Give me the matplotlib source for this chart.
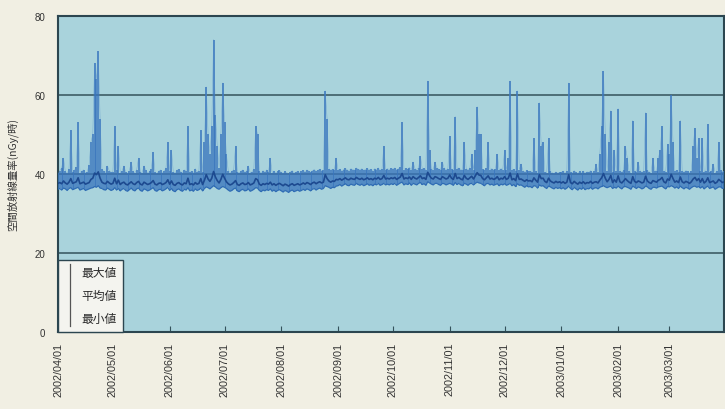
import numpy as np
import matplotlib
matplotlib.use("Agg")
import matplotlib.pyplot as plt
from matplotlib.lines import Line2D
import datetime as dt

plt.rcParams['font.family'] = ['Noto Sans CJK JP', 'DejaVu Sans']

# Daily values (nGy/h), 2002/04/01 - 2003/03/31
max_apr = [40.2, 40.8, 41.5, 44.0, 40.6, 40.1, 41.2, 51.0, 40.4, 40.9, 41.8, 53.0, 40.3, 40.7, 41.0, 40.2, 40.5, 42.3, 48.0, 50.0, 68.0, 64.0, 71.0, 54.0, 41.2, 40.6, 40.3, 42.0, 40.8, 40.4]
max_may = [40.5, 52.0, 40.9, 47.0, 40.3, 40.7, 42.0, 40.4, 40.1, 40.8, 43.0, 40.6, 40.2, 41.1, 44.0, 40.5, 40.3, 42.0, 40.9, 40.2, 40.6, 41.3, 45.5, 40.4, 40.1, 40.7, 41.0, 40.3, 40.6, 41.5, 48.0]
max_jun = [40.6, 46.0, 40.4, 40.2, 40.9, 41.2, 40.5, 40.3, 41.0, 40.7, 52.0, 40.4, 40.6, 40.2, 41.3, 40.5, 40.8, 51.0, 40.4, 48.0, 62.0, 50.0, 45.0, 52.0, 74.0, 55.0, 47.0, 41.5, 50.0, 63.0]
max_jul = [53.0, 45.0, 40.8, 40.3, 40.6, 41.1, 47.0, 40.5, 40.2, 40.7, 41.0, 40.4, 40.6, 42.0, 40.3, 40.5, 41.2, 52.0, 50.0, 40.6, 40.2, 40.8, 40.4, 41.0, 40.5, 44.0, 40.3, 40.7, 40.2, 40.6, 40.9]
max_aug = [40.4, 40.1, 40.6, 40.3, 40.0, 40.5, 40.8, 40.2, 40.4, 40.7, 40.3, 40.6, 40.9, 40.5, 41.0, 40.7, 40.4, 40.8, 41.1, 40.6, 40.9, 41.2, 40.8, 41.0, 61.0, 54.0, 41.3, 40.9, 41.2, 41.0, 44.0]
max_sep = [40.9, 41.2, 40.7, 41.1, 41.4, 41.0, 40.8, 41.3, 41.1, 40.9, 41.5, 41.2, 41.0, 41.3, 40.9, 41.1, 41.4, 41.0, 41.2, 40.8, 41.3, 41.1, 41.5, 40.9, 41.2, 47.0, 41.0, 41.3, 41.1, 41.4]
max_oct = [41.2, 41.5, 41.0, 41.3, 41.7, 53.0, 41.1, 41.4, 41.2, 41.6, 41.0, 43.0, 41.3, 41.1, 41.5, 44.5, 41.2, 41.4, 41.0, 63.5, 46.0, 41.3, 41.1, 43.0, 41.5, 41.2, 41.0, 43.0, 41.4, 41.1, 41.3]
max_nov = [49.5, 41.3, 41.0, 54.5, 41.2, 41.5, 41.1, 40.9, 48.0, 41.3, 41.0, 41.4, 45.0, 41.1, 46.0, 57.0, 50.0, 50.0, 41.2, 40.9, 41.4, 48.0, 41.1, 41.3, 41.0, 41.2, 45.0, 40.9, 41.3, 41.1]
max_dec = [46.0, 41.0, 44.0, 63.5, 40.9, 41.2, 40.7, 61.0, 41.0, 42.5, 40.8, 40.5, 40.9, 40.6, 40.7, 40.4, 49.0, 40.8, 40.3, 58.0, 47.0, 48.0, 40.5, 40.2, 49.0, 40.6, 40.3, 40.1, 40.5, 40.2, 40.4]
max_jan = [40.4, 40.7, 40.3, 40.6, 63.0, 40.5, 40.2, 40.8, 40.4, 40.1, 40.6, 40.3, 40.7, 40.2, 40.5, 40.4, 40.8, 40.3, 40.6, 42.5, 40.4, 45.0, 52.0, 66.0, 50.0, 40.7, 48.0, 56.0, 40.5, 46.0, 40.6]
max_feb = [56.5, 40.7, 40.4, 40.9, 47.0, 44.0, 40.6, 40.3, 53.5, 40.8, 40.5, 43.0, 40.7, 40.4, 40.6, 55.5, 40.9, 40.5, 40.3, 44.0, 40.8, 40.6, 44.0, 46.0, 52.0, 40.7, 40.4, 47.5]
max_mar = [45.0, 60.0, 48.0, 40.6, 40.9, 40.5, 53.5, 40.7, 40.4, 40.8, 40.6, 40.3, 40.7, 47.0, 51.5, 44.0, 49.0, 40.6, 49.0, 40.4, 40.8, 52.5, 40.5, 40.7, 42.5, 40.3, 40.6, 48.0, 40.9, 40.5, 40.7]

mean_apr = [37.6, 37.8, 37.5, 38.2, 37.7, 37.4, 37.9, 38.8, 37.6, 37.8, 38.0, 39.0, 37.5, 37.7, 37.9, 37.4, 37.6, 37.8, 38.6, 38.9, 40.2, 39.8, 40.5, 38.9, 37.9, 37.6, 37.5, 38.1, 37.7, 37.4]
mean_may = [37.6, 38.9, 37.5, 38.4, 37.3, 37.7, 37.9, 37.4, 37.2, 37.6, 38.0, 37.5, 37.3, 37.8, 38.1, 37.4, 37.2, 37.9, 37.6, 37.3, 37.5, 37.8, 38.3, 37.4, 37.2, 37.6, 37.7, 37.3, 37.5, 37.8, 38.5]
mean_jun = [37.4, 38.2, 37.3, 37.1, 37.6, 37.8, 37.4, 37.2, 37.7, 37.5, 38.9, 37.3, 37.5, 37.2, 37.8, 37.4, 37.6, 38.8, 37.3, 38.4, 39.8, 38.7, 38.1, 38.9, 40.6, 39.2, 38.3, 37.7, 38.6, 39.9]
mean_jul = [38.9, 38.0, 37.5, 37.2, 37.4, 37.8, 38.3, 37.3, 37.1, 37.5, 37.7, 37.3, 37.4, 37.8, 37.2, 37.4, 37.7, 38.8, 38.5, 37.4, 37.1, 37.5, 37.3, 37.6, 37.4, 37.9, 37.2, 37.5, 37.1, 37.4, 37.6]
mean_aug = [37.3, 37.0, 37.4, 37.2, 36.9, 37.3, 37.5, 37.1, 37.3, 37.5, 37.2, 37.4, 37.7, 37.4, 37.8, 37.6, 37.3, 37.7, 37.9, 37.5, 37.8, 38.0, 37.7, 37.9, 39.8, 38.8, 38.2, 37.9, 38.2, 38.1, 38.6]
mean_sep = [38.5, 38.8, 38.4, 38.7, 39.0, 38.6, 38.5, 38.9, 38.7, 38.6, 39.1, 38.8, 38.6, 38.9, 38.5, 38.7, 39.0, 38.6, 38.8, 38.5, 38.9, 38.7, 39.1, 38.6, 38.8, 39.6, 38.7, 38.9, 38.7, 39.0]
mean_oct = [38.8, 39.1, 38.6, 38.9, 39.2, 40.1, 38.7, 39.0, 38.8, 39.2, 38.6, 39.3, 38.9, 38.7, 39.1, 39.5, 38.8, 39.0, 38.6, 40.4, 39.5, 38.9, 38.7, 39.3, 39.1, 38.8, 38.6, 39.3, 39.0, 38.7, 38.9]
mean_nov = [39.7, 38.9, 38.6, 40.1, 38.8, 39.1, 38.7, 38.5, 39.6, 38.9, 38.6, 39.0, 39.4, 38.7, 39.5, 40.3, 39.7, 39.6, 38.8, 38.5, 39.0, 39.5, 38.7, 38.9, 38.6, 38.8, 39.3, 38.5, 38.9, 38.7]
mean_dec = [39.3, 38.6, 38.9, 40.2, 38.5, 38.8, 38.3, 40.0, 38.6, 38.7, 38.4, 38.1, 38.5, 38.2, 38.3, 38.0, 39.0, 38.4, 37.9, 39.8, 38.8, 38.9, 38.1, 37.8, 38.9, 38.2, 37.9, 37.7, 38.1, 37.8, 38.0]
mean_jan = [37.7, 38.0, 37.6, 37.9, 39.8, 37.8, 37.5, 38.1, 37.7, 37.4, 37.9, 37.6, 38.0, 37.5, 37.8, 37.7, 38.1, 37.6, 37.9, 38.0, 37.7, 38.4, 39.0, 40.1, 38.9, 38.0, 38.6, 39.6, 37.8, 38.5, 37.9]
mean_feb = [39.5, 38.0, 37.7, 38.2, 38.8, 38.3, 37.9, 37.6, 39.3, 38.1, 37.8, 38.2, 38.0, 37.7, 37.9, 39.4, 38.2, 37.8, 37.6, 38.3, 38.1, 37.9, 38.4, 38.6, 39.1, 38.0, 37.7, 38.7]
mean_mar = [38.4, 39.9, 38.8, 37.9, 38.2, 37.8, 39.2, 38.0, 37.7, 38.1, 37.9, 37.6, 38.0, 38.7, 39.1, 38.3, 38.8, 37.9, 38.8, 37.7, 38.1, 39.0, 37.8, 38.0, 38.2, 37.6, 37.9, 38.6, 38.2, 37.8, 38.0]

min_apr = [36.1, 36.3, 35.9, 36.4, 36.2, 35.8, 36.3, 36.5, 36.0, 36.2, 36.4, 36.6, 35.9, 36.1, 36.3, 35.8, 36.0, 36.2, 36.4, 36.5, 36.8, 36.6, 37.0, 36.4, 36.3, 36.0, 35.9, 36.4, 36.1, 35.8]
min_may = [36.0, 36.5, 35.9, 36.3, 35.7, 36.1, 36.3, 35.8, 35.6, 36.0, 36.4, 35.9, 35.7, 36.2, 36.4, 35.8, 35.6, 36.2, 36.0, 35.7, 35.9, 36.2, 36.5, 35.8, 35.6, 36.0, 36.1, 35.7, 35.9, 36.2, 36.6]
min_jun = [35.8, 36.3, 35.7, 35.5, 36.0, 36.2, 35.8, 35.6, 36.1, 35.9, 36.5, 35.7, 35.9, 35.6, 36.2, 35.8, 36.0, 36.4, 35.7, 36.3, 36.7, 36.5, 36.2, 36.6, 37.0, 36.7, 36.3, 36.1, 36.5, 36.8]
min_jul = [36.6, 36.3, 35.9, 35.6, 35.8, 36.2, 36.4, 35.7, 35.5, 35.9, 36.1, 35.7, 35.8, 36.2, 35.6, 35.8, 36.1, 36.5, 36.4, 35.8, 35.5, 35.9, 35.7, 36.0, 35.8, 36.2, 35.6, 35.9, 35.5, 35.8, 36.0]
min_aug = [35.7, 35.4, 35.8, 35.6, 35.3, 35.7, 35.9, 35.5, 35.7, 35.9, 35.6, 35.8, 36.1, 35.8, 36.2, 36.0, 35.7, 36.1, 36.3, 35.9, 36.2, 36.4, 36.1, 36.3, 37.0, 36.8, 36.6, 36.3, 36.6, 36.5, 36.9]
min_sep = [37.0, 37.3, 36.9, 37.2, 37.5, 37.1, 37.0, 37.4, 37.2, 37.1, 37.6, 37.3, 37.1, 37.4, 37.0, 37.2, 37.5, 37.1, 37.3, 37.0, 37.4, 37.2, 37.6, 37.1, 37.3, 37.6, 37.2, 37.4, 37.2, 37.5]
min_oct = [37.3, 37.6, 37.1, 37.4, 37.7, 37.9, 37.2, 37.5, 37.3, 37.7, 37.1, 37.6, 37.4, 37.2, 37.6, 37.8, 37.3, 37.5, 37.1, 38.0, 37.7, 37.4, 37.2, 37.6, 37.6, 37.3, 37.1, 37.6, 37.5, 37.2, 37.4]
min_nov = [37.6, 37.4, 37.1, 37.8, 37.3, 37.6, 37.2, 37.0, 37.6, 37.4, 37.1, 37.5, 37.6, 37.2, 37.6, 37.9, 37.7, 37.6, 37.3, 37.0, 37.5, 37.6, 37.2, 37.4, 37.1, 37.3, 37.5, 37.0, 37.4, 37.2]
min_dec = [37.5, 37.1, 37.3, 37.6, 37.0, 37.3, 36.8, 37.5, 37.1, 37.2, 36.9, 36.6, 37.0, 36.7, 36.8, 36.5, 37.0, 36.9, 36.4, 37.2, 36.9, 37.0, 36.6, 36.3, 36.9, 36.7, 36.4, 36.2, 36.6, 36.3, 36.5]
min_jan = [36.2, 36.5, 36.1, 36.4, 36.9, 36.3, 36.0, 36.6, 36.2, 35.9, 36.4, 36.1, 36.5, 36.0, 36.3, 36.2, 36.6, 36.1, 36.4, 36.5, 36.2, 36.6, 36.8, 37.0, 36.7, 36.5, 36.7, 36.9, 36.3, 36.6, 36.4]
min_feb = [36.9, 36.5, 36.2, 36.7, 36.8, 36.6, 36.4, 36.1, 36.9, 36.6, 36.3, 36.7, 36.5, 36.2, 36.4, 36.9, 36.7, 36.3, 36.1, 36.6, 36.6, 36.4, 36.7, 36.8, 36.9, 36.5, 36.2, 36.8]
min_mar = [36.7, 37.0, 36.8, 36.4, 36.7, 36.3, 36.9, 36.5, 36.2, 36.6, 36.4, 36.1, 36.5, 36.8, 36.9, 36.6, 36.8, 36.4, 36.8, 36.2, 36.6, 36.9, 36.3, 36.5, 36.7, 36.1, 36.4, 36.7, 36.7, 36.3, 36.5]

tick_labels = ["2002/04/01", "2002/05/01", "2002/06/01", "2002/07/01", "2002/08/01",
               "2002/09/01", "2002/10/01", "2002/11/01", "2002/12/01", "2003/01/01",
               "2003/02/01", "2003/03/01"]
legend_labels = ["最大値", "平均値", "最小値"]
y_ticks = [0, 20, 40, 60, 80]
ylabel = "空間放射線量率(nGy/時)"

vmax = max_apr + max_may + max_jun + max_jul + max_aug + max_sep + max_oct + max_nov + max_dec + max_jan + max_feb + max_mar
vmean = mean_apr + mean_may + mean_jun + mean_jul + mean_aug + mean_sep + mean_oct + mean_nov + mean_dec + mean_jan + mean_feb + mean_mar
vmin = min_apr + min_may + min_jun + min_jul + min_aug + min_sep + min_oct + min_nov + min_dec + min_jan + min_feb + min_mar

start = dt.date(2002, 4, 1)
dates = [start + dt.timedelta(days=i) for i in range(len(vmax))]
tick_dates = [dt.datetime.strptime(s, "%Y/%m/%d").date() for s in tick_labels]

fig = plt.figure(figsize=(7.25, 4.10), dpi=100)
fig.patch.set_facecolor('#f1efe3')
ax = fig.add_axes([0.080, 0.188, 0.919, 0.771])
ax.set_facecolor('#a9d3dc')

# daily range bars (min..max) + lines
ax.vlines(dates, vmin, vmax, color='#3a76bd', lw=1.1, zorder=3)
ax.plot(dates, vmax, color='#4a86c8', lw=0.4, zorder=3, alpha=0.5)
ax.plot(dates, vmin, color='#2f6cb4', lw=0.9, zorder=3)
ax.plot(dates, vmean, color='#1d4a90', lw=1.2, zorder=4)

for yv in [20, 40, 60]:
    ax.axhline(yv, color='#34525c', lw=1.1, zorder=2)

ax.set_ylim(0, 80)
ax.set_xlim(start, dt.date(2003, 3, 31))
ax.set_yticks(y_ticks)
ax.set_yticklabels([str(v) for v in y_ticks], fontsize=7, color='#333333',
                   family='Liberation Sans')
ax.tick_params(axis='y', length=0, pad=9)
ax.set_xticks(tick_dates)
ax.set_xticklabels(tick_labels, rotation=90, fontsize=7.8, color='#333333',
                   family='Liberation Sans')
ax.tick_params(axis='x', direction='in', length=4, width=0.8, color='#34525c', pad=7)
for s in ax.spines.values():
    s.set_color('#2c4650')
    s.set_linewidth(1.5)

ax.set_ylabel(ylabel, fontsize=7.5, color='#333333', labelpad=12)

handles = [Line2D([], [], linestyle='None', marker='None') for _ in legend_labels]
leg = ax.legend(handles, legend_labels, loc='lower left', bbox_to_anchor=(0.0, 0.0),
                borderaxespad=0.0, fontsize=8.5, frameon=True, fancybox=False,
                handlelength=0.9, handletextpad=0.5, labelspacing=0.85,
                borderpad=0.55)
leg.get_frame().set_facecolor('#f4f4ef')
leg.get_frame().set_edgecolor('#2c4650')
leg.get_frame().set_linewidth(1.0)
leg.get_frame().set_alpha(1.0)
leg.set_zorder(6)
for t in leg.get_texts():
    t.set_color('#2a2a2a')
# thin key rule inside the legend box
ax.plot([0.018, 0.018], [0.02, 0.215], transform=ax.transAxes, color='#555555',
        lw=0.9, zorder=7, clip_on=False)

fig.savefig("out.png", dpi=100, facecolor=fig.get_facecolor())
